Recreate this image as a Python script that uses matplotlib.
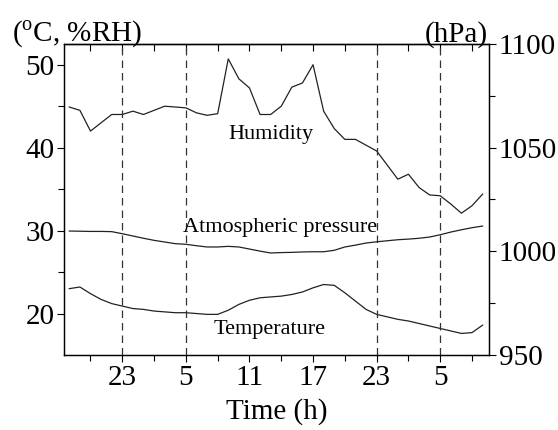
import numpy as np
from matplotlib import pyplot as plt

plt.rcParams['font.family'] = ['Liberation Serif', 'DejaVu Serif']
plt.rcParams['mathtext.fontset'] = 'custom'
plt.rcParams['mathtext.rm'] = 'Liberation Serif'

# hourly readings, hours counted from 0:00 of the first day
hours = np.arange(18, 58)

humidity = [44.9, 44.5, 42.0, 43.0, 44.0, 44.0, 44.4, 44.0, 44.5, 45.0,
            44.9, 44.8, 44.2, 43.9, 44.1, 50.7, 48.3, 47.2, 44.0, 44.0,
            45.0, 47.3, 47.8, 50.0, 44.4, 42.3, 41.0, 41.0, 40.3, 39.6,
            37.9, 36.2, 36.8, 35.2, 34.3, 34.2, 33.2, 32.1, 33.0, 34.4]

temperature = [23.0, 23.2, 22.4, 21.7, 21.2, 20.9, 20.6, 20.5, 20.3, 20.2,
               20.1, 20.1, 20.0, 19.9, 19.9, 20.4, 21.1, 21.6, 21.9, 22.0,
               22.1, 22.3, 22.6, 23.1, 23.5, 23.4, 22.5, 21.5, 20.5, 19.9,
               19.6, 19.3, 19.1, 18.8, 18.5, 18.2, 17.9, 17.6, 17.7, 18.6]

pressure = [1009.8, 1009.7, 1009.6, 1009.6, 1009.5, 1008.5, 1007.4, 1006.3, 1005.3, 1004.5,
            1003.7, 1003.4, 1002.7, 1002.1, 1002.1, 1002.4, 1002.1, 1001.1, 1000.1, 999.2,
            999.4, 999.5, 999.7, 999.8, 999.8, 1000.5, 1002.1, 1003.0, 1004.0, 1004.6,
            1005.1, 1005.6, 1005.9, 1006.3, 1006.9, 1008.0, 1009.3, 1010.4, 1011.4, 1012.2]

tick_hours = [23, 29, 35, 41, 47, 53]
tick_labels = ['23', '5', '11', '17', '23', '5']
minor_hours = [20, 26, 32, 38, 44, 50, 56]
night_marks = [23, 29, 47, 53]

fig = plt.figure(figsize=(5.58, 4.30), dpi=100)
ax = fig.add_axes([0.1147, 0.1744, 0.7616, 0.7233])
ax2 = ax.twinx()

lc = '#222222'
ax.plot(hours, humidity, color=lc, lw=0.9)
ax.plot(hours, temperature, color=lc, lw=0.9)
ax2.plot(hours, pressure, color=lc, lw=0.9)

for h in night_marks:
    ax.axvline(h, color='#333333', lw=0.9, ls=(0, (6, 4)))

ax.set_xlim(17.5, 57.6)
ax.set_ylim(15, 52.5)
ax2.set_ylim(950, 1100)

ax.set_xticks(tick_hours)
ax.set_xticklabels(tick_labels)
ax.set_xticks(minor_hours, minor=True)
ax.set_yticks([20, 30, 40, 50])
ax.set_yticks([25, 35, 45], minor=True)
ax2.set_yticks([950, 1000, 1050, 1100])
ax2.set_yticks([975, 1025, 1075], minor=True)

ax.tick_params(axis='both', which='major', labelsize=21, length=5, width=0.8,
               direction='out', pad=2)
ax.tick_params(axis='both', which='minor', length=4, width=0.8, direction='out')
ax2.tick_params(axis='y', which='major', labelsize=21, length=5, width=0.8,
                direction='out', pad=2)
ax2.tick_params(axis='y', which='minor', length=4, width=0.8, direction='out')

# top edge: inward ticks every 3 h, no labels
top = ax.secondary_xaxis('top')
top.set_xticks(sorted(tick_hours + minor_hours))
top.tick_params(axis='x', direction='in', length=5, width=0.8, labeltop=False)
top.spines['top'].set_linewidth(0.9)

for s in list(ax.spines.values()) + list(ax2.spines.values()):
    s.set_linewidth(0.9)

ax.set_xlabel('Time (h)', fontsize=21, labelpad=5)
fig.text(0.022, 0.903, r'($^{\mathrm{o}}$C, %RH)', fontsize=21, ha='left', va='baseline')
fig.text(0.875, 0.903, '(hPa)', fontsize=21, ha='right', va='baseline')

ax.text(37.0, 41.0, 'Humidity', fontsize=16, ha='center', va='baseline')
ax.text(37.9, 29.85, 'Atmospheric pressure', fontsize=16, ha='center', va='baseline')
ax.text(36.9, 17.55, 'Temperature', fontsize=16, ha='center', va='baseline')

fig.savefig('out.png', dpi=100)
